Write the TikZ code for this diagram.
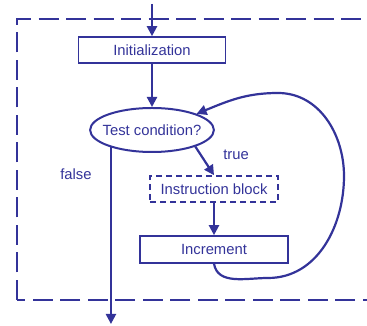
\documentclass[tikz,border=0pt]{standalone}
\usepackage{fontspec}
\setmainfont{Liberation Sans}
\usetikzlibrary{shapes.geometric,arrows.meta}
\definecolor{loopblue}{RGB}{51,51,153}

\begin{document}
\begin{tikzpicture}[x=1pt,y=1pt,
        every node/.style={font=\fontsize{14.8}{17}\selectfont, text=loopblue},
        blockbox/.style={draw=loopblue, line width=1.6pt, inner sep=0pt, minimum height=26pt},
        flow/.style={draw=loopblue, line width=2.2pt, -{Triangle[length=10pt,width=10pt]}}]
        \useasboundingbox (0,0) rectangle (367,326);

        % dashed frame, cut by the right edge
        \begin{scope}
        \clip (0,0) rectangle (367,326);
        \draw[loopblue, line width=2.5pt, dash pattern=on 20pt off 7.5pt] (17,26) rectangle (400,307);
        \end{scope}

        \node[blockbox, minimum width=147pt] (init) at (152,276) {Initialization};
        \node[blockbox, ellipse, line width=2pt, inner xsep=-5.6pt, minimum height=44pt] (test) at (152,196) {Test condition?};
        \node[blockbox, dash pattern=on 6pt off 4pt, minimum width=128pt] (instr) at (214,137) {Instruction block};
        \node[blockbox, minimum width=148pt, minimum height=27pt] (incr) at (214,76.5) {Increment};

        \node (truelbl) at (236,171) {true};
        \node (falselbl) at (76,152) {false};

        \coordinate (entry) at (152,322);
        \coordinate (exit) at (0,2);
        \coordinate (lpbot) at (268,48);
        \coordinate (lpright) at (344,150);
        \coordinate (lptop) at (278,233);

        \draw[flow] (entry) -- (init);
        \draw[flow] (init) -- (test);
        \draw[flow] (test.-21) -- (instr.north);
        \draw[flow] (instr) -- (incr);
        \draw[flow] (test.203) -- (test.203 |- exit);
        \draw[flow] (incr.south) to[out=-80,in=180] (lpbot) to[out=0,in=-90] (lpright)
            to[out=90,in=0] (lptop) to[out=180,in=22] (test.20);
    \end{tikzpicture}
\end{document}
